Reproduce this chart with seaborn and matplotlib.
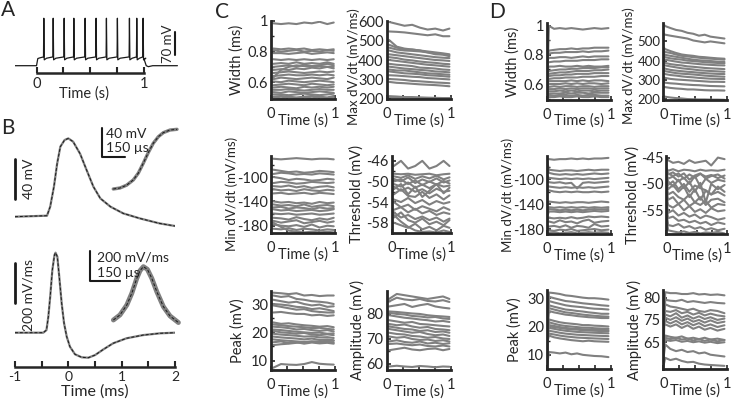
import matplotlib
matplotlib.use("Agg")
import matplotlib.pyplot as plt
import pandas as pd
import seaborn as sns

W, H = 734, 409
GRAY = "#808080"

# ---------------- A: spike train (time s, voltage mV)
A_SPIKE_T = [0.068, 0.155, 0.257, 0.347, 0.452, 0.554, 0.650, 0.752, 0.864, 0.932, 0.991]
A_REST = -80
A_PEAK = 66
A_AHP = -62
A_PRE = -53

# ---------------- B: average spike and its derivative (time ms)
B_T = [-1, -0.4, -0.34, -0.27, -0.21, -0.15, -0.07, 0, 0.09, 0.22, 0.34, 0.47, 0.6,
       0.79, 1.03, 1.34, 1.71, 2.0]
B_V = [-60, -59, -50, -30, -7, 10, 16.7, 18.3, 15, 3, -13, -30, -41.7,
       -50, -56.7, -61.7, -66.7, -69.3]
B_DT = [-1, -0.47, -0.41, -0.375, -0.34, -0.3, -0.26, -0.24, -0.206, -0.17, -0.125,
        -0.08, -0.03, 0.03, 0.125, 0.25, 0.375, 0.5, 0.66, 0.84, 1.09, 1.4, 1.72, 2.0]
B_DV = [0, 0, 13, 80, 180, 313, 388, 400, 380, 280, 147,
        47, -20, -70, -108, -123, -125, -112, -83, -53, -28, -12, -3, 0]
# insets (rising phase and its derivative)
BI_T = [-0.41, -0.367, -0.324, -0.281, -0.249, -0.217, -0.185, -0.153, -0.12, -0.088, -0.045, 0]
BI_V = [-66.4, -65, -61, -53.6, -44, -30, -15, -1.8, 7.6, 13.3, 17, 18]
BI_DT = [-0.4, -0.367, -0.333, -0.308, -0.283, -0.267, -0.25, -0.23, -0.208, -0.183, -0.15, -0.117, -0.075]
BI_DV = [44, 78, 144, 222, 322, 373, 400, 382, 322, 233, 133, 71, 27]

# ---------------- C: features during the step (9 spikes)
C_TIME = [0.04, 0.16, 0.28, 0.40, 0.52, 0.64, 0.76, 0.88, 0.98]
C_WIDTH = [
    [0.985, 0.98, 0.985, 0.98, 0.99, 0.985, 0.995, 0.98, 0.99],
    [0.82, 0.815, 0.82, 0.815, 0.82, 0.81, 0.815, 0.81, 0.815],
    [0.81, 0.80, 0.805, 0.81, 0.80, 0.805, 0.80, 0.81, 0.805],
    [0.79, 0.79, 0.785, 0.79, 0.795, 0.785, 0.79, 0.795, 0.79],
    [0.75, 0.745, 0.75, 0.745, 0.75, 0.745, 0.75, 0.745, 0.75],
    [0.72, 0.725, 0.72, 0.73, 0.72, 0.725, 0.72, 0.73, 0.72],
    [0.70, 0.705, 0.71, 0.70, 0.715, 0.705, 0.71, 0.72, 0.71],
    [0.68, 0.685, 0.68, 0.69, 0.685, 0.695, 0.69, 0.70, 0.69],
    [0.66, 0.665, 0.67, 0.665, 0.66, 0.665, 0.67, 0.665, 0.67],
    [0.64, 0.645, 0.65, 0.645, 0.645, 0.65, 0.645, 0.65, 0.645],
    [0.62, 0.63, 0.625, 0.62, 0.625, 0.63, 0.625, 0.62, 0.63],
    [0.605, 0.60, 0.61, 0.605, 0.60, 0.605, 0.61, 0.605, 0.60],
    [0.58, 0.585, 0.59, 0.585, 0.58, 0.59, 0.585, 0.58, 0.585],
    [0.565, 0.57, 0.565, 0.56, 0.57, 0.565, 0.57, 0.565, 0.57],
    [0.55, 0.55, 0.555, 0.55, 0.545, 0.55, 0.555, 0.55, 0.55],
    [0.535, 0.53, 0.54, 0.535, 0.53, 0.535, 0.54, 0.535, 0.53],
    [0.52, 0.52, 0.515, 0.52, 0.525, 0.52, 0.515, 0.52, 0.525],
    [0.505, 0.51, 0.505, 0.50, 0.505, 0.51, 0.505, 0.50, 0.51],
    [0.50, 0.495, 0.50, 0.495, 0.50, 0.495, 0.50, 0.495, 0.50],
    [0.63, 0.68, 0.70, 0.71, 0.705, 0.70, 0.705, 0.70, 0.70],
]
C_MAXDV = [
    [600, 590, 580, 585, 570, 560, 565, 555, 565],
    [550, 548, 545, 540, 535, 530, 535, 525, 525],
    [505, 470, 460, 455, 450, 445, 440, 435, 430],
    [480, 465, 455, 455, 450, 440, 435, 430, 425],
    [465, 455, 450, 448, 445, 440, 430, 428, 420],
    [450, 440, 435, 430, 425, 420, 415, 412, 410],
    [430, 425, 420, 415, 410, 405, 400, 398, 395],
    [415, 410, 402, 398, 392, 388, 385, 380, 378],
    [400, 395, 390, 385, 380, 375, 372, 368, 365],
    [380, 375, 372, 368, 360, 358, 355, 350, 348],
    [365, 360, 355, 352, 348, 345, 340, 338, 335],
    [350, 345, 345, 340, 335, 330, 328, 325, 322],
    [340, 335, 330, 328, 325, 320, 318, 315, 312],
    [320, 318, 315, 312, 310, 305, 303, 300, 298],
    [300, 298, 295, 290, 288, 285, 282, 280, 278],
    [285, 280, 278, 275, 272, 270, 268, 265, 262],
    [210, 208, 205, 205, 203, 202, 201, 200, 200],
    [205, 204, 203, 202, 201, 200, 200, 200, 200],
]
C_MINDV = [
    [-70, -71, -70, -69, -70, -71, -70, -70, -71],
    [-88, -90, -92, -91, -93, -92, -90, -91, -92],
    [-95, -93, -94, -96, -95, -96, -94, -95, -96],
    [-100, -102, -105, -103, -104, -106, -105, -103, -104],
    [-110, -108, -109, -111, -110, -108, -109, -110, -109],
    [-115, -116, -114, -117, -115, -118, -116, -115, -117],
    [-120, -122, -121, -123, -120, -122, -123, -121, -122],
    [-127, -126, -128, -127, -126, -128, -126, -127, -128],
    [-140, -142, -141, -143, -142, -144, -141, -143, -142],
    [-145, -147, -146, -148, -145, -149, -147, -146, -148],
    [-150, -149, -152, -150, -151, -153, -150, -152, -151],
    [-153, -155, -154, -156, -155, -154, -156, -155, -153],
    [-160, -161, -160, -162, -161, -160, -162, -161, -160],
    [-167, -168, -170, -166, -169, -171, -168, -170, -167],
    [-172, -175, -173, -171, -176, -174, -172, -175, -173],
    [-178, -180, -181, -179, -182, -178, -183, -180, -181],
    [-185, -186, -184, -187, -185, -186, -188, -186, -187],
    [-175, -182, -188, -190, -191, -190, -191, -190, -191],
]
C_THRESH = [
    [-47, -46, -47.5, -47, -46, -47.5, -47, -46, -47],
    [-48.5, -48.6, -48.5, -48.7, -48.6, -48.5, -48.8, -48.6, -48.5],
    [-49, -49.3, -48.8, -49.5, -49, -49.4, -48.9, -49.6, -49.2],
    [-49.5, -50, -49.2, -50.3, -49.6, -50.1, -49.4, -50.2, -49.8],
    [-50, -49.6, -50.5, -49.8, -50.7, -50, -50.6, -49.9, -50.4],
    [-50.5, -51, -50.2, -51.2, -50.6, -51.3, -50.5, -51, -50.8],
    [-51, -51.8, -51.2, -52, -51.5, -52.3, -51.4, -52, -51.8],
    [-52.5, -51.5, -52.8, -53, -52, -53.2, -52.5, -53.5, -52.7],
    [-53.5, -54, -53.2, -54.2, -53.6, -54.5, -53.8, -54.3, -54],
    [-54, -55, -54.5, -55.5, -54.8, -55.3, -55.8, -55, -55.5],
    [-55.5, -55, -56, -55.3, -56.2, -55.7, -56.5, -56, -56.3],
    [-56, -57, -56.5, -57.3, -56.8, -57.5, -57, -57.8, -57.2],
    [-57, -56, -57.5, -58, -57.2, -58.3, -57.8, -58.5, -57.5],
    [-58, -58.5, -59, -58.2, -59.3, -58.8, -59.5, -58.6, -59],
    [-56.5, -57.8, -58.8, -59.5, -59.8, -59.7, -59.9, -59.5, -59.8],
    [-51.5, -50.5, -52.5, -51, -53, -51.8, -50.5, -52.3, -51.2],
]
C_PEAK = [
    [34, 33.8, 33.5, 33.8, 33, 33.2, 32.8, 33, 33],
    [33, 32.5, 32.8, 31.8, 31.5, 31, 30.8, 30.5, 30],
    [31.5, 31, 30.5, 30.8, 30, 29.5, 29.8, 29, 29.2],
    [30, 29.8, 29.5, 29, 28.8, 28.2, 28.5, 28, 27.5],
    [29.5, 29, 28.5, 28, 28.2, 27.5, 27.2, 27, 27],
    [27, 27.2, 26.8, 26.5, 26.5, 26, 26.2, 25.8, 26],
    [23.5, 23, 23.2, 22.8, 22.5, 22.3, 22, 22.2, 21.8],
    [22.8, 22.5, 22.2, 22, 21.8, 21.5, 21.6, 21.2, 21],
    [22, 21.8, 21.5, 21, 21.2, 20.8, 20.5, 20.8, 20.3],
    [21, 20.8, 20.5, 20.2, 20, 19.8, 19.9, 19.5, 19.6],
    [20.5, 20, 19.8, 19.5, 19.8, 19.2, 19, 19.3, 19],
    [19.5, 19.2, 19, 18.8, 18.5, 18.6, 18.2, 18.3, 18],
    [18.5, 18.2, 18, 17.8, 17.5, 17.8, 17.3, 17.5, 17.2],
    [17.5, 17.2, 17, 16.8, 16.6, 16.8, 16.5, 16.6, 16.4],
    [16.5, 16.8, 16.2, 16.5, 16, 16.4, 16.1, 16.3, 16],
    [15.5, 15.8, 16, 16.3, 16.5, 16.7, 16.8, 17, 17],
    [7.5, 8.8, 8.6, 8.5, 8.8, 9.5, 8.9, 8.7, 8.6],
]
C_AMP = [
    [86, 88, 87.5, 87, 86.5, 86, 86.5, 87, 86],
    [85, 86.5, 85.8, 85.5, 86, 85.2, 85, 85.5, 84.8],
    [83, 83.5, 84, 82.8, 83.5, 84, 83, 82.5, 82.2],
    [81, 80.8, 80.5, 80.2, 80, 79.5, 79.2, 79, 78.8],
    [80.5, 80, 79.8, 79.2, 79, 78.6, 78.8, 78.2, 78],
    [79.5, 79, 78.5, 78.2, 77.8, 77.5, 77, 77.2, 76.8],
    [77.5, 77, 76.5, 76.8, 76, 75.8, 75.5, 75.2, 75],
    [76, 75.5, 75.8, 75, 74.5, 74.8, 74, 73.8, 73.5],
    [75, 74.5, 74, 73.8, 73.2, 73.5, 72.8, 73, 72.5],
    [74, 73.5, 73, 72.5, 72.8, 72, 71.5, 71.8, 71.2],
    [72.5, 72, 71.8, 71.2, 71, 70.5, 70.8, 70.2, 70],
    [71, 70.5, 70.8, 70, 69.6, 69.8, 69.2, 69.5, 69],
    [69, 69.5, 68.8, 68.5, 69, 68.2, 68.5, 68, 68.3],
    [68, 68.2, 67.8, 67.5, 67.8, 67.2, 67, 67.4, 67],
    [65.5, 66, 66.5, 65.8, 65.5, 66, 66.2, 65.5, 66],
    [59, 59.3, 59, 58.8, 59.2, 59, 58.7, 59, 58.9],
]

# ---------------- D: features during the step (many spikes, first one differs)
D_TIME = [0.0, 0.03, 0.11, 0.2, 0.29, 0.38, 0.47, 0.56, 0.65, 0.74, 0.85, 0.96]
D_WIDTH = [
    [0.55, 1.0, 0.98, 0.985, 0.98, 0.985, 0.98, 0.975, 0.98, 0.985, 0.98, 0.985],
    [0.8, 0.83, 0.835, 0.84, 0.84, 0.845, 0.84, 0.845, 0.845, 0.85, 0.85, 0.85],
    [0.78, 0.81, 0.815, 0.815, 0.82, 0.82, 0.82, 0.825, 0.82, 0.825, 0.825, 0.83],
    [0.76, 0.78, 0.78, 0.785, 0.785, 0.78, 0.785, 0.79, 0.785, 0.79, 0.79, 0.79],
    [0.74, 0.75, 0.755, 0.755, 0.76, 0.76, 0.76, 0.765, 0.765, 0.765, 0.77, 0.77],
    [0.7, 0.72, 0.72, 0.725, 0.72, 0.72, 0.725, 0.72, 0.725, 0.72, 0.72, 0.725],
    [0.67, 0.69, 0.695, 0.70, 0.70, 0.705, 0.705, 0.71, 0.71, 0.71, 0.715, 0.715],
    [0.65, 0.67, 0.675, 0.68, 0.68, 0.685, 0.69, 0.69, 0.69, 0.695, 0.695, 0.70],
    [0.64, 0.655, 0.66, 0.66, 0.665, 0.665, 0.67, 0.67, 0.67, 0.675, 0.675, 0.675],
    [0.62, 0.635, 0.64, 0.64, 0.645, 0.645, 0.645, 0.65, 0.65, 0.65, 0.655, 0.655],
    [0.6, 0.62, 0.62, 0.62, 0.62, 0.625, 0.62, 0.625, 0.62, 0.625, 0.625, 0.62],
    [0.58, 0.6, 0.6, 0.6, 0.605, 0.6, 0.605, 0.6, 0.605, 0.605, 0.6, 0.605],
    [0.57, 0.58, 0.585, 0.58, 0.585, 0.585, 0.58, 0.585, 0.585, 0.58, 0.585, 0.585],
    [0.55, 0.565, 0.565, 0.57, 0.565, 0.57, 0.565, 0.57, 0.57, 0.565, 0.57, 0.57],
    [0.54, 0.55, 0.55, 0.555, 0.55, 0.555, 0.55, 0.555, 0.555, 0.55, 0.555, 0.555],
    [0.53, 0.535, 0.535, 0.535, 0.54, 0.535, 0.54, 0.54, 0.535, 0.54, 0.54, 0.54],
    [0.52, 0.525, 0.52, 0.525, 0.525, 0.52, 0.525, 0.52, 0.525, 0.525, 0.52, 0.52],
    [0.51, 0.51, 0.51, 0.515, 0.51, 0.51, 0.515, 0.51, 0.51, 0.515, 0.51, 0.51],
]
D_MAXDV = [
    [590, 580, 570, 560, 555, 545, 540, 530, 535, 525, 520, 515],
    [540, 535, 530, 525, 520, 515, 505, 500, 495, 500, 495, 490],
    [470, 460, 450, 440, 432, 428, 425, 420, 418, 415, 412, 410],
    [455, 445, 440, 432, 425, 422, 418, 415, 412, 410, 408, 405],
    [440, 430, 425, 420, 415, 410, 405, 402, 400, 398, 395, 393],
    [425, 418, 412, 408, 405, 400, 398, 395, 392, 390, 388, 386],
    [410, 405, 400, 395, 390, 388, 385, 382, 380, 378, 376, 375],
    [395, 388, 382, 378, 375, 370, 368, 365, 362, 360, 358, 356],
    [380, 375, 370, 365, 360, 357, 354, 350, 348, 346, 344, 342],
    [365, 358, 352, 348, 345, 342, 340, 337, 335, 333, 331, 330],
    [350, 345, 340, 335, 332, 330, 328, 325, 322, 320, 318, 316],
    [335, 330, 325, 322, 318, 315, 313, 310, 308, 306, 305, 304],
    [315, 310, 305, 302, 300, 298, 296, 294, 292, 290, 290, 289],
    [290, 285, 282, 280, 277, 275, 273, 272, 270, 268, 267, 266],
    [265, 262, 258, 255, 253, 250, 250, 248, 246, 245, 245, 244],
    [215, 212, 208, 205, 203, 200, 199, 198, 198, 197, 197, 196],
]
D_MINDV = [
    [-68, -68, -69, -68, -68, -67, -68, -67, -68, -67, -67, -66],
    [-70, -85, -86, -87, -86, -86, -87, -86, -85, -86, -85, -85],
    [-80, -90, -92, -93, -92, -93, -92, -93, -92, -91, -92, -91],
    [-95, -98, -99, -100, -99, -100, -99, -100, -99, -100, -99, -98],
    [-100, -105, -106, -105, -107, -106, -115, -106, -105, -106, -105, -104],
    [-110, -112, -113, -114, -113, -114, -113, -114, -113, -114, -113, -112],
    [-120, -118, -120, -121, -120, -121, -120, -121, -121, -120, -121, -120],
    [-140, -136, -137, -138, -137, -138, -137, -137, -138, -137, -136, -137],
    [-150, -145, -146, -145, -146, -145, -146, -145, -146, -145, -146, -145],
    [-155, -148, -149, -150, -149, -150, -149, -150, -149, -148, -149, -148],
    [-160, -152, -152, -153, -152, -153, -152, -153, -152, -151, -152, -151],
    [-165, -162, -163, -162, -163, -161, -163, -162, -160, -161, -160, -161],
    [-170, -168, -170, -166, -169, -168, -171, -167, -165, -170, -168, -167],
    [-175, -176, -175, -177, -174, -178, -175, -176, -178, -172, -176, -175],
    [-180, -182, -183, -181, -182, -180, -183, -182, -181, -180, -182, -181],
    [-185, -186, -185, -187, -186, -185, -187, -186, -185, -186, -185, -186],
]
D_THRESH = [
    [-45, -45.5, -46, -45.8, -46.2, -45.5, -46, -45.8, -45.6, -46.5, -45, -45.3],
    [-47, -47.5, -47.2, -47.6, -47.3, -47.4, -47.6, -47.3, -47.5, -47.4, -47.5, -47.3],
    [-47.5, -48, -48.5, -48, -49, -48.2, -48.8, -48.1, -48.6, -48.3, -48.9, -48.4],
    [-48, -49, -48.6, -49.5, -48.8, -50, -48.5, -50.5, -49, -49.8, -49.2, -49.5],
    [-48.5, -49.5, -50.5, -49.2, -50.8, -49.6, -51.5, -49.8, -53.5, -50, -51, -50.2],
    [-49, -50.2, -49.5, -51, -50, -51.5, -50.3, -50.8, -51.2, -52, -50.5, -51.5],
    [-49.5, -51, -50.2, -51.5, -50.5, -52.5, -51, -53, -51.3, -52, -51.5, -52.2],
    [-50, -52, -51.5, -52.5, -53, -52, -53.5, -52.5, -54, -53, -52.8, -53.5],
    [-51, -53, -52.5, -53.8, -53, -54.2, -53.5, -54, -53.2, -54.5, -53.8, -54],
    [-52, -54, -54.5, -53.8, -55, -54.2, -55.3, -54.8, -55.5, -54.6, -55.2, -55],
    [-53, -55.5, -55, -56, -55.5, -56.2, -55.8, -56.5, -56, -56.3, -56.8, -56.5],
    [-54, -56.5, -56.2, -57, -56.8, -57.3, -57, -57.5, -57.2, -57.8, -57.3, -57.6],
    [-55, -57.8, -58, -57.6, -58.3, -58, -58.5, -58.2, -58.7, -58.4, -58.8, -58.5],
    [-56, -58.8, -59, -59.2, -59, -59.3, -59.1, -59.4, -59.2, -59.3, -59.1, -59.4],
    [-47.5, -48.2, -47.8, -48.6, -48, -49.2, -48.4, -48, -49, -48.5, -48.2, -49],
]
D_PEAK = [
    [5, 32, 31.8, 31.5, 31, 30.8, 30.5, 30.2, 30, 30, 29.8, 29.5],
    [20, 30.5, 30, 29.5, 29, 28.8, 28.5, 28.2, 28, 27.8, 27.5, 27.3],
    [22, 29, 28.5, 28, 27.5, 27.2, 27, 26.8, 26.5, 26.3, 26.2, 26],
    [24, 27.5, 27, 26.5, 26, 25.8, 25.5, 25.3, 25, 24.8, 24.5, 24.5],
    [25, 26.5, 26, 25.5, 25, 24.8, 24.5, 24.2, 24, 23.8, 23.6, 23.5],
    [18, 25.5, 25, 24.6, 24.2, 24, 23.7, 23.5, 23.3, 23.2, 23, 23],
    [15, 22.5, 22, 21.5, 21.2, 21, 20.8, 20.5, 20.5, 20.3, 20.2, 20],
    [18, 21.5, 21, 20.5, 20.2, 20, 19.8, 19.6, 19.6, 19.4, 19.3, 19.2],
    [19, 20.5, 20.2, 19.8, 19.5, 19.3, 19.2, 19, 19, 18.9, 18.8, 18.7],
    [20, 20, 19.8, 19.5, 19.2, 19, 18.9, 18.7, 18.6, 18.5, 18.4, 18.3],
    [17, 19.5, 19.2, 18.8, 18.5, 18.3, 18.1, 18, 17.9, 17.8, 17.7, 17.6],
    [16, 18.5, 18.2, 17.8, 17.5, 17.3, 17.1, 17, 16.9, 16.8, 16.7, 16.6],
    [15, 17.5, 17.2, 16.8, 16.5, 16.3, 16.1, 16, 15.9, 15.8, 15.7, 15.6],
    [14, 16.8, 16.2, 15.8, 15.5, 15.2, 15, 14.8, 15, 14.8, 14.7, 14.6],
    [6, 11, 10.8, 10.5, 10.8, 10.2, 10.5, 10, 9.8, 9.6, 9.5, 9.2],
]
D_AMP = [
    [66, 81.2, 81, 81, 80.8, 80.8, 81, 80.7, 80.8, 80.6, 80.7, 80.5],
    [70, 79.5, 79.3, 79.2, 79.5, 79, 79.2, 79, 78.8, 79, 78.8, 78.7],
    [72, 78.5, 78, 77.8, 77.5, 77.2, 77.5, 77, 76.8, 77.2, 77, 76.5],
    [74, 77, 76.8, 77.2, 76.5, 76.8, 76.2, 76.6, 76, 76.4, 76, 75.8],
    [75, 76.2, 75.8, 76.5, 75.5, 76, 75.3, 75.8, 75.2, 75.6, 75, 75.3],
    [73, 75.5, 75, 75.6, 74.8, 75.3, 74.6, 75, 74.4, 74.9, 74.3, 74.6],
    [74.5, 74.8, 74.2, 74.8, 74, 74.5, 73.8, 74.3, 73.6, 74, 73.4, 73.8],
    [73.5, 74, 73.5, 74, 73.2, 73.8, 73, 73.5, 72.8, 73.2, 72.6, 73],
    [68, 71.5, 71.2, 71, 71.3, 70.8, 71, 70.7, 71, 70.6, 70.8, 70.5],
    [69, 71, 70.7, 71, 70.6, 70.8, 70.4, 70.7, 70.3, 70.6, 70.2, 70.5],
    [70, 70.5, 70.3, 70.5, 70.1, 70.3, 70, 70.2, 69.9, 70.1, 69.8, 70],
    [66, 69.5, 68.5, 68, 68.3, 67.8, 68, 67.5, 67.7, 67.2, 67, 66.8],
    [64.5, 66.5, 66, 66.3, 65.8, 65.5, 65.6, 65.2, 65, 64.9, 64.8, 64.7],
]

sns.set_theme(style="ticks")
plt.rcParams["font.family"] = ["Lato", "DejaVu Sans"]
FS = 9.5
plt.rcParams["font.size"] = FS

fig = plt.figure(figsize=(W / 100, H / 100), dpi=100)


def px_axes(x0, y0, x1, y1):
    # figure placement given in pixel box (left, top, right, bottom)
    return fig.add_axes([x0 / W, 1 - y1 / H, (x1 - x0) / W, (y1 - y0) / H])


def ftext(x, y, s, **kw):
    fig.text(x / W, 1 - y / H, s, **kw)


def long_df(times, traces):
    rows = []
    for k, tr in enumerate(traces):
        for t, v in zip(times, tr):
            rows.append((k, t, v))
    return pd.DataFrame(rows, columns=["trace", "time", "value"])


def wave(ax, t, v, lw_gray=1.6):
    sns.lineplot(x=t, y=v, sort=False, estimator=None, color=GRAY, lw=lw_gray, ax=ax)
    sns.lineplot(x=t, y=v, sort=False, estimator=None, color="k", lw=0.7,
                 linestyle=(0, (3, 2)), ax=ax)


# ---------------- panel A
axA = px_axes(15, 15, 178.5, 73.3)
a_t = [-0.2, 0.0, 0.012, 0.03]
a_v = [A_REST, A_REST, -58, -56]
for ts in A_SPIKE_T:
    a_t += [ts - 0.003, ts, ts + 0.004, ts + 0.025]
    a_v += [A_PRE, A_PEAK, A_AHP, -57]
a_t += [1.0, 1.02, 1.04, 1.08, 1.31]
a_v += [-60, A_REST, -83, A_REST, A_REST]
sns.lineplot(x=a_t, y=a_v, sort=False, estimator=None, color="k", lw=0.9, ax=axA)
axA.set_xlim(-0.2, 1.32)
axA.set_ylim(-103.4, 76)
for s in ["top", "right", "left"]:
    axA.spines[s].set_visible(False)
axA.spines["bottom"].set_bounds(0, 1)
axA.spines["bottom"].set_linewidth(1.8)
axA.set_yticks([])
axA.set_xticks([0, 0.25, 0.5, 0.75, 1], labels=["0", "", "", "", "1"])
axA.tick_params(axis="x", direction="in", length=4, width=1.5, labelsize=FS + 1, pad=3)
axA.set_xlabel("Time (s)", fontsize=FS + 1)
axA.xaxis.set_label_coords(0.42, -0.22)
axA.plot([1.285, 1.285], [-47, 23], color="k", lw=1.5, clip_on=False)
axA.text(1.225, -12, "70 mV", rotation=90, ha="center", va="center", fontsize=FS)
axA.set_facecolor("none")

# ---------------- panel B
axBt = px_axes(15, 128, 175, 230)
wave(axBt, B_T, B_V)
axBt.set_xlim(-1, 2)
axBt.set_ylim(-73.3, 28.7)
axBt.axis("off")
axBt.plot([-1, -1], [-42, -2], color="k", lw=2, clip_on=False)
axBt.text(-0.73, -22, "40 mV", rotation=90, ha="center", va="center", fontsize=FS + 0.5)

axBb = px_axes(15, 248, 175, 367)
wave(axBb, B_DT, B_DV)
axBb.set_xlim(-1, 2)
axBb.set_ylim(-171.5, 423.5)
for s in ["top", "right", "left"]:
    axBb.spines[s].set_visible(False)
axBb.spines["bottom"].set_linewidth(1.8)
axBb.set_yticks([])
axBb.set_xticks([-1, -0.5, 0, 0.5, 1, 1.5, 2], labels=["-1", "", "0", "", "1", "", "2"])
axBb.tick_params(axis="x", direction="in", length=4, width=1.5, labelsize=FS + 0.5, pad=3)
axBb.set_xlabel("Time (ms)", fontsize=FS + 2, labelpad=1)
axBb.plot([-1, -1], [150, 350], color="k", lw=2, clip_on=False)
axBb.text(-0.74, 188, "200 mV/ms", rotation=90, ha="center", va="center", fontsize=FS + 0.5)
axBb.set_facecolor("none")

axIt = px_axes(98, 125, 180, 195)
wave(axIt, BI_T, BI_V, lw_gray=2.4)
axIt.set_xlim(-0.508, 0.019)
axIt.set_ylim(-74.9, 24.1)
axIt.axis("off")
axIt.plot([-0.484, -0.484, -0.334], [19.3, -20.7, -20.7], color="k", lw=1.5, clip_on=False)
ftext(106, 134, "40 mV", ha="left", va="center", fontsize=FS + 0.5)
ftext(106, 148, "150 µs", ha="left", va="center", fontsize=FS + 0.5)

axIb = px_axes(88, 250, 182, 325)
wave(axIb, BI_DT, BI_DV, lw_gray=3.5)
axIb.set_xlim(-0.527, -0.057)
axIb.set_ylim(10.7, 511)
axIb.axis("off")
axIb.plot([-0.517, -0.517, -0.367], [506, 306, 306], color="k", lw=1.5, clip_on=False)
ftext(97, 257, "200 mV/ms", ha="left", va="center", fontsize=FS + 0.5)
ftext(97, 273, "150 µs", ha="left", va="center", fontsize=FS + 0.5)


# ---------------- panels C and D
def small_panel(box, times, traces, ylim, yticks, yminor, ylabel, lab_x,
                yticklabels=None, lab_fs=FS + 1, lab_y=0.5, tick_fs=FS + 1):
    x0, y0, x1, y1 = box
    ax = px_axes(x0, y0, x1, y1)
    sns.lineplot(data=long_df(times, traces), x="time", y="value", units="trace",
                 estimator=None, color=GRAY, lw=1.5, ax=ax, legend=False)
    ax.set_xlim(0, 1)
    ax.set_ylim(*ylim)
    sns.despine(ax=ax)
    for s in ["left", "bottom"]:
        ax.spines[s].set_linewidth(2)
    ax.set_xticks([0, 0.25, 0.5, 0.75, 1], labels=["0", "", "", "", "1"])
    ax.set_yticks(yticks, labels=yticklabels if yticklabels else [f"{v:g}" for v in yticks])
    ax.set_yticks(yminor, minor=True)
    ax.tick_params(direction="in", length=3, width=1.2, labelsize=FS + 1, pad=2)
    ax.tick_params(axis="y", labelsize=tick_fs)
    ax.tick_params(axis="x", pad=6)
    ax.tick_params(which="minor", direction="in", length=2, width=1)
    ax.set_xlabel("Time (s)", fontsize=FS + 1)
    ax.xaxis.set_label_coords(0.5, -0.18)
    ax.set_ylabel(ylabel, fontsize=lab_fs)
    ax.yaxis.set_label_coords((lab_x - x0) / (x1 - x0), lab_y)
    ax.yaxis.label.set_verticalalignment("center")
    ax.set_facecolor("none")
    return ax


CX1 = (270.7, 335)
CX2 = (386.5, 450.7)
DX1 = (547, 611)
DX2 = (663.3, 727)
R1C, R2C, R3C = (21, 99), (155.7, 233), (290.7, 370)
R1D, R2D, R3D = (23, 100), (156, 234), (290, 369)

small_panel((CX1[0], R1C[0], CX1[1], R1C[1]), C_TIME, C_WIDTH, (0.49, 1.0),
            [0.6, 0.8, 1], [0.5, 0.7, 0.9], "Width (ms)", 237)
small_panel((CX2[0], R1C[0], CX2[1], R1C[1]), C_TIME, C_MAXDV, (195, 605),
            [200, 300, 400, 500, 600], [], "Max dV/dt (mV/ms)", 354, lab_fs=FS, lab_y=0.42)
small_panel((CX1[0], R2C[0], CX1[1], R2C[1]), C_TIME, C_MINDV, (-192, -65),
            [-180, -140, -100], [-160, -120, -80], "Min dV/dt (mV/ms)", 232, lab_fs=FS)
small_panel((CX2[0] + 5, R2C[0], CX2[1], R2C[1]), C_TIME, C_THRESH, (-60, -45),
            [-58, -54, -50, -46], [-56, -52, -48], "Threshold (mV)", 357)
small_panel((CX1[0], R3C[0], CX1[1], R3C[1]), C_TIME, C_PEAK, (6.7, 34.7),
            [10, 20, 30], [15, 25], "Peak (mV)", 238)
small_panel((CX2[0], R3C[0], CX2[1], R3C[1]), C_TIME, C_AMP, (57.6, 89.3),
            [60, 70, 80], [65, 75, 85], "Amplitude (mV)", 357)

small_panel((DX1[0], R1D[0], DX1[1], R1D[1]), D_TIME, D_WIDTH, (0.49, 1.02),
            [0.6, 0.8, 1], [0.5, 0.7, 0.9], "Width (ms)", 513)
small_panel((DX2[0], R1D[0], DX2[1], R1D[1]), D_TIME, D_MAXDV, (195, 596),
            [200, 300, 400, 500], [], "Max dV/dt (mV/ms)", 629, lab_fs=FS, lab_y=0.44,
            tick_fs=FS)
small_panel((DX1[0], R2D[0], DX1[1], R2D[1]), D_TIME, D_MINDV, (-188, -63),
            [-180, -140, -100], [-160, -120, -80], "Min dV/dt (mV/ms)", 508, lab_fs=FS)
small_panel((DX2[0] + 3, R2D[0], DX2[1], R2D[1]), D_TIME, D_THRESH, (-59.5, -44.7),
            [-55, -50, -45], [], "Threshold (mV)", 633)
small_panel((DX1[0], R3D[0], DX1[1], R3D[1]), D_TIME, D_PEAK, (5, 32.9),
            [10, 20, 30], [15, 25], "Peak (mV)", 515)
small_panel((DX2[0], R3D[0], DX2[1], R3D[1]), D_TIME, D_AMP, (64, 81.7),
            [70, 75, 80], [], "Amplitude (mV)", 634, yticklabels=["65", "75", "80"])

# panel letters
ftext(1, 10, "A", fontsize=15, va="center")
ftext(1, 128, "B", fontsize=15, va="center")
ftext(215, 12, "C", fontsize=15, va="center")
ftext(489, 12, "D", fontsize=15, va="center")

fig.savefig("out.png", dpi=100)
